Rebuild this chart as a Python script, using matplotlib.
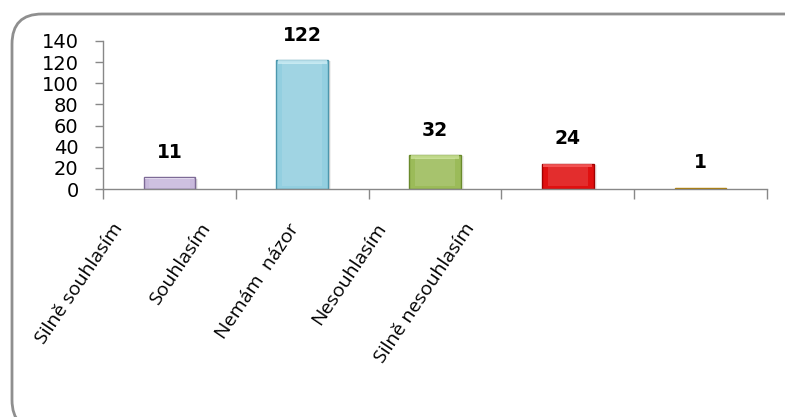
import matplotlib
matplotlib.use("Agg")
import matplotlib.pyplot as plt
from matplotlib.patches import FancyBboxPatch
import numpy as np

categories = ["Silně souhlasím", "Souhlasím", "Nemám  názor", "Nesouhlasím", "Silně nesouhlasím"]
counts = [11, 122, 32, 24, 1]
y_ticks = [0, 20, 40, 60, 80, 100, 120, 140]

face_colors = ["#c8b9dc", "#93cfe0", "#9bbb59", "#e01010", "#e3a914"]
edge_colors = ["#7d6a96", "#4c97ad", "#6a8a2c", "#a00000", "#b07d00"]
light_colors = ["#f2ecfa", "#d4f0f8", "#d2e8a0", "#ff7070", "#f5d060"]

fig = plt.figure(figsize=(7.85, 4.17), dpi=100)
fig.patch.set_facecolor("white")

# rounded chart frame (inches), running off the right and bottom edges
frame = FancyBboxPatch((0.12, -0.13), 8.1, 4.16,
                       boxstyle="round,pad=0,rounding_size=0.3",
                       transform=fig.dpi_scale_trans, facecolor="none",
                       edgecolor="#8f8f8f", linewidth=2.0, clip_on=False)
fig.patches.append(frame)

ax = fig.add_axes([103 / 785, 1 - 189 / 417, 664 / 785, 148 / 417])
x = np.arange(len(categories))
width = 0.39

# soft drop shadow under each bar
for dx, alpha in [(0.012, 0.10), (0.022, 0.06)]:
    ax.bar(x + dx, counts, width, bottom=-1.2, color="#000000", alpha=alpha,
           linewidth=0, zorder=1)

bars = ax.bar(x, counts, width, color=face_colors, edgecolor=edge_colors,
              linewidth=1.0, zorder=2)

# bevel highlight on top and sides
for xi, v, lc in zip(x, counts, light_colors):
    h = min(v * 0.12, 3.0)
    ax.bar(xi, h, width * 0.94, bottom=v - h - 0.3, color=lc, alpha=0.7,
           linewidth=0, zorder=3)
    if v > 8:
        ax.bar(xi, v - 2 * h, width * 0.78, bottom=h, color="white", alpha=0.12,
               linewidth=0, zorder=3)

for xi, v in zip(x, counts):
    ax.annotate(str(v), (xi, v), xytext=(0, 25), textcoords="offset pixels",
                ha="center", va="center", fontsize=13.5, fontweight="bold",
                family="DejaVu Sans", color="black")

ax.set_xlim(-0.5, len(categories) - 0.5)
ax.set_ylim(0, 140)
ax.set_yticks(y_ticks)
ax.set_yticklabels([str(t) for t in y_ticks], fontsize=14, family="DejaVu Sans")
ax.set_xticks(np.arange(len(categories) + 1) - 0.5)
ax.set_xticklabels([])
ax.tick_params(axis="y", length=5.5, width=1, color="#888888", pad=12)
ax.tick_params(axis="x", length=7, width=1, color="#888888")
for s in ["top", "right"]:
    ax.spines[s].set_visible(False)
for s in ["left", "bottom"]:
    ax.spines[s].set_color("#888888")
    ax.spines[s].set_linewidth(1.0)
ax.set_facecolor("none")

# rotated category labels under the axis
for i, name in enumerate(categories):
    fig.text((123 + 88 * i) / 785, 1 - 228 / 417, name, rotation=56,
             rotation_mode="anchor", ha="right", va="baseline",
             fontsize=14, family="Open Sans", color="black")

fig.savefig("out.png", dpi=100, facecolor="white")
